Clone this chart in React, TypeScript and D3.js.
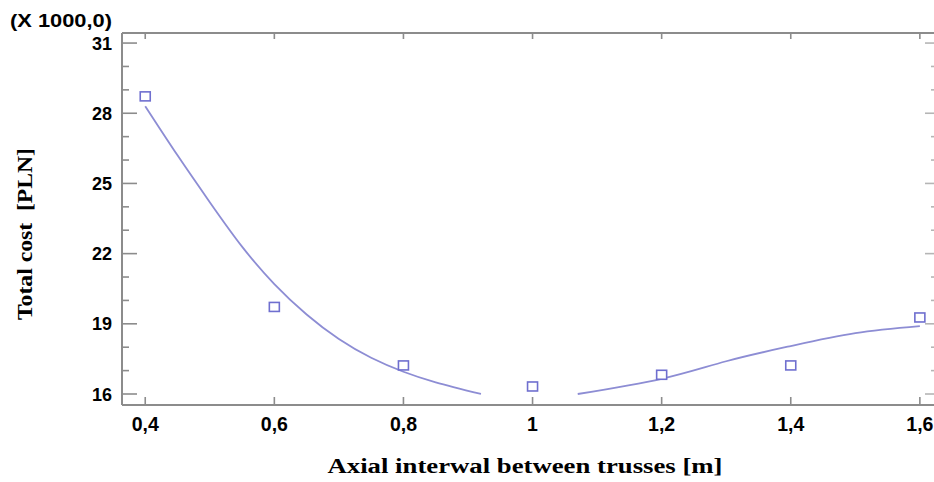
import * as d3 from "d3";
import { useEffect, useRef } from "react";

// values
const spacing = [0.4, 0.6, 0.8, 1.0, 1.2, 1.4, 1.6];
const cost = [28.7, 19.7, 17.2, 16.3, 16.8, 17.2, 19.25];

// fitted curve, drawn in two pieces (it is cut where it drops to 16)
const fitLeftX = [0.4, 0.45, 0.5, 0.55, 0.6, 0.65, 0.7, 0.75, 0.8, 0.85, 0.92];
const fitLeftY = [28.3, 26.2, 24.2, 22.3, 20.7, 19.4, 18.35, 17.55, 16.95, 16.5, 16.0];
const fitRightX = [1.07, 1.2, 1.3, 1.4, 1.5, 1.6];
const fitRightY = [16.0, 16.65, 17.4, 18.05, 18.6, 18.9];

const xTicks = [0.4, 0.6, 0.8, 1.0, 1.2, 1.4, 1.6];
const yTicks = [16, 19, 22, 25, 28, 31];

const width = 934,
  height = 482;
const margin = { top: 33, left: 122, right: -2, bottom: 77 };

const sans = "Liberation Sans, Arial, sans-serif";
const serif = "Liberation Serif, Times New Roman, serif";

const App = () => {
  const ref = useRef<SVGSVGElement>(null);

  useEffect(() => {
    const svg = d3.select(ref.current);
    svg.selectAll("*").remove();

    const x = d3
      .scaleLinear()
      .domain([0.364, 1.625])
      .range([margin.left, width - margin.right]);
    const y = d3
      .scaleLinear()
      .domain([15.53, 31.43])
      .range([height - margin.bottom, margin.top]);

    const axisColor = "#8c8c8c";
    const fmt = (v: number) => d3.format("~g")(v).replace(".", ",");

    const g = svg.append("g");

    // frame
    const [x0, x1] = x.range();
    const [y0, y1] = y.range();
    g.append("path")
      .attr("d", `M${x0},${y1}H${x1}M${x0},${y0}H${x1}M${x0},${y0}V${y1}M${x1},${y0}V${y1}`)
      .attr("stroke", axisColor)
      .attr("stroke-width", 2)
      .attr("fill", "none");

    // y ticks: major every 3, minor every 1
    d3.range(16, 32, 1).forEach((v) => {
      const major = yTicks.includes(v);
      g.append("line")
        .attr("x1", x0)
        .attr("x2", x0 + (major ? 15 : 7))
        .attr("y1", y(v))
        .attr("y2", y(v))
        .attr("stroke", axisColor)
        .attr("stroke-width", 1.6);
      g.append("line")
        .attr("x1", major ? width - 9 : width - 3)
        .attr("x2", width)
        .attr("y1", y(v))
        .attr("y2", y(v))
        .attr("stroke", "#b5b5b5")
        .attr("stroke-width", 1.6);
    });

    yTicks.forEach((v) => {
      g.append("text")
        .attr("x", 112)
        .attr("y", y(v) + 6.5)
        .attr("text-anchor", "end")
        .attr("font-family", sans)
        .attr("font-weight", "bold")
        .attr("font-size", 18)
        .text(v);
    });

    xTicks.forEach((v) => {
      g.append("line")
        .attr("x1", x(v))
        .attr("x2", x(v))
        .attr("y1", y0)
        .attr("y2", y0 - 8)
        .attr("stroke", axisColor)
        .attr("stroke-width", 1.6);
      g.append("line")
        .attr("x1", x(v))
        .attr("x2", x(v))
        .attr("y1", y1)
        .attr("y2", y1 + 6)
        .attr("stroke", axisColor)
        .attr("stroke-width", 1.6);
      g.append("text")
        .attr("x", x(v))
        .attr("y", 431)
        .attr("text-anchor", "middle")
        .attr("font-family", sans)
        .attr("font-weight", "bold")
        .attr("font-size", 19.5)
        .text(fmt(v));
    });

    // multiplier
    g.append("text")
      .attr("x", 10)
      .attr("y", 27)
      .attr("font-family", sans)
      .attr("font-weight", "bold")
      .attr("font-size", 18)
      .attr("textLength", 102)
      .attr("lengthAdjust", "spacingAndGlyphs")
      .text("(X 1000,0)");

    // titles
    g.append("text")
      .attr("x", 525)
      .attr("y", 473)
      .attr("text-anchor", "middle")
      .attr("font-family", serif)
      .attr("font-weight", "bold")
      .attr("font-size", 20)
      .attr("textLength", 395)
      .attr("lengthAdjust", "spacingAndGlyphs")
      .text("Axial interwal between trusses [m]");

    g.append("text")
      .attr("transform", "translate(32,234) rotate(-90)")
      .attr("text-anchor", "middle")
      .attr("font-family", serif)
      .attr("font-weight", "bold")
      .attr("font-size", 20)
      .attr("textLength", 172)
      .attr("lengthAdjust", "spacingAndGlyphs")
      .attr("xml:space", "preserve")
      .text("Total cost  [PLN]");

    // fitted curve
    const line = d3
      .line<[number, number]>()
      .x((d) => x(d[0]))
      .y((d) => y(d[1]))
      .curve(d3.curveNatural);

    const pieces = [
      d3.zip(fitLeftX, fitLeftY) as [number, number][],
      d3.zip(fitRightX, fitRightY) as [number, number][],
    ];
    pieces.forEach((p) => {
      g.append("path")
        .attr("d", line(p))
        .attr("fill", "none")
        .attr("stroke", "#8d8dd4")
        .attr("stroke-width", 1.8);
    });

    // observed points
    g.selectAll("rect.pt")
      .data(d3.zip(spacing, cost))
      .join("rect")
      .attr("class", "pt")
      .attr("x", (d) => x(d[0]) - 5)
      .attr("y", (d) => y(d[1]) - 5)
      .attr("width", 10)
      .attr("height", 9)
      .attr("fill", "white")
      .attr("stroke", "#6f6fcf")
      .attr("stroke-width", 1.6);
  }, []);

  return (
    <svg
      ref={ref}
      width={width}
      height={height}
      style={{ position: "absolute", left: 0, top: 0, background: "white" }}
    />
  );
};

export default App;
